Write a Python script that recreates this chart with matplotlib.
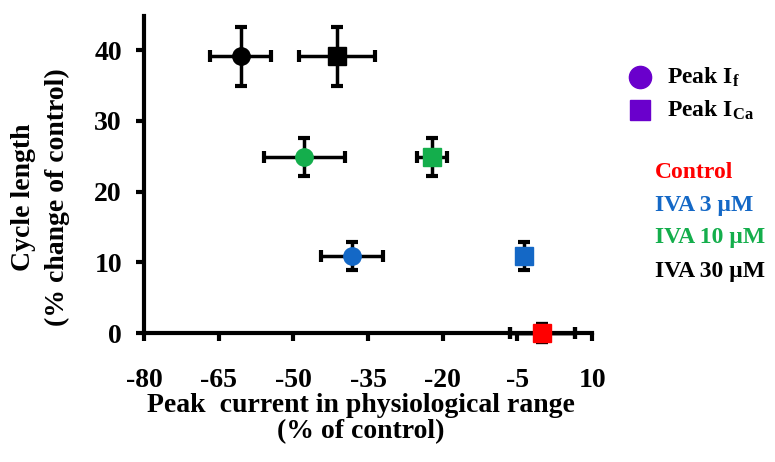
import matplotlib.pyplot as plt

plt.rcParams['font.family'] = ['Liberation Serif', 'DejaVu Serif']
plt.rcParams['font.weight'] = 'bold'
plt.rcParams['axes.unicode_minus'] = False
plt.rcParams['mathtext.fontset'] = 'custom'
plt.rcParams['mathtext.rm'] = 'Liberation Serif:bold'
plt.rcParams['mathtext.bf'] = 'Liberation Serif:bold'
plt.rcParams['mathtext.it'] = 'Liberation Serif:bold'

# data: treatments, peak If (circles) and peak ICa (squares)
treatments = ['Control', 'IVA 3 \u00b5M', 'IVA 10 \u00b5M', 'IVA 30 \u00b5M']
colors = ['#ff0000', '#1468c6', '#14ae4c', '#000000']

if_x = [0, -38.3, -47.8, -60.6]
if_xerr = [6.5, 6.2, 8.2, 6.1]
ica_x = [0, -3.7, -22.2, -41.3]
ica_xerr = [6.5, 1.0, 3.0, 7.6]
cycle_len = [0, 10.9, 24.9, 39.1]
cycle_err = [1.3, 2.0, 2.7, 4.2]

fig = plt.figure(figsize=(7.75, 4.62), dpi=100)
ax = fig.add_axes([0.186, 0.279, 0.578, 0.686])

for i in range(len(treatments)):
    ax.errorbar(if_x[i], cycle_len[i], xerr=if_xerr[i], yerr=cycle_err[i],
                fmt='o', color=colors[i], ms=12.5, ecolor='black', elinewidth=2.5,
                capsize=4, capthick=3, zorder=3)
    ax.errorbar(ica_x[i], cycle_len[i], xerr=ica_xerr[i], yerr=cycle_err[i],
                fmt='s', color=colors[i], ms=12.5, ecolor='black', elinewidth=2.5,
                capsize=4, capthick=3, zorder=3)

ax.set_xlim(-80, 10)
ax.set_ylim(0, 44.8)
ax.set_xticks([-80, -65, -50, -35, -20, -5, 10])
ax.set_yticks([0, 10, 20, 30, 40])
ax.spines['top'].set_visible(False)
ax.spines['right'].set_visible(False)
ax.spines['left'].set_linewidth(3)
ax.spines['bottom'].set_linewidth(3)
ax.spines['bottom'].set_zorder(2)
ax.tick_params(width=3, length=6, labelsize=20)
ax.tick_params(axis='x', pad=19)
ax.tick_params(axis='y', pad=10)
for a in ax.get_children():
    a.set_clip_on(False)

ax.set_xlabel('Peak  current in physiological range\n(% of control)',
              fontsize=20, fontweight='bold', linespacing=1.05)
ax.xaxis.set_label_coords(0.484, -0.19)
ax.set_ylabel('Cycle length\n(% change of control)',
              fontsize=20, fontweight='bold', linespacing=1.45)
ax.yaxis.set_label_coords(-0.165, 0.43)

# legend: marker shapes
purple = '#6a00cc'
fig.lines.append(plt.Line2D([640 / 775], [1 - 77 / 462], marker='o', ms=16,
                            color=purple, transform=fig.transFigure))
fig.lines.append(plt.Line2D([640 / 775], [1 - 110 / 462], marker='s', ms=15,
                            color=purple, transform=fig.transFigure))
fig.text(667 / 775, 1 - 77 / 462, r'Peak I$_\mathrm{f}$', fontsize=17,
         fontweight='bold', va='center', ha='left')
fig.text(667 / 775, 1 - 110 / 462, r'Peak I$_\mathrm{Ca}$', fontsize=17,
         fontweight='bold', va='center', ha='left')

# legend: treatment colours
for i, name in enumerate(treatments):
    fig.text(655 / 775, 1 - (172 + 33 * i) / 462, name, color=colors[i],
             fontsize=17, fontweight='bold', va='center', ha='left')

fig.savefig('out.png', dpi=100)
